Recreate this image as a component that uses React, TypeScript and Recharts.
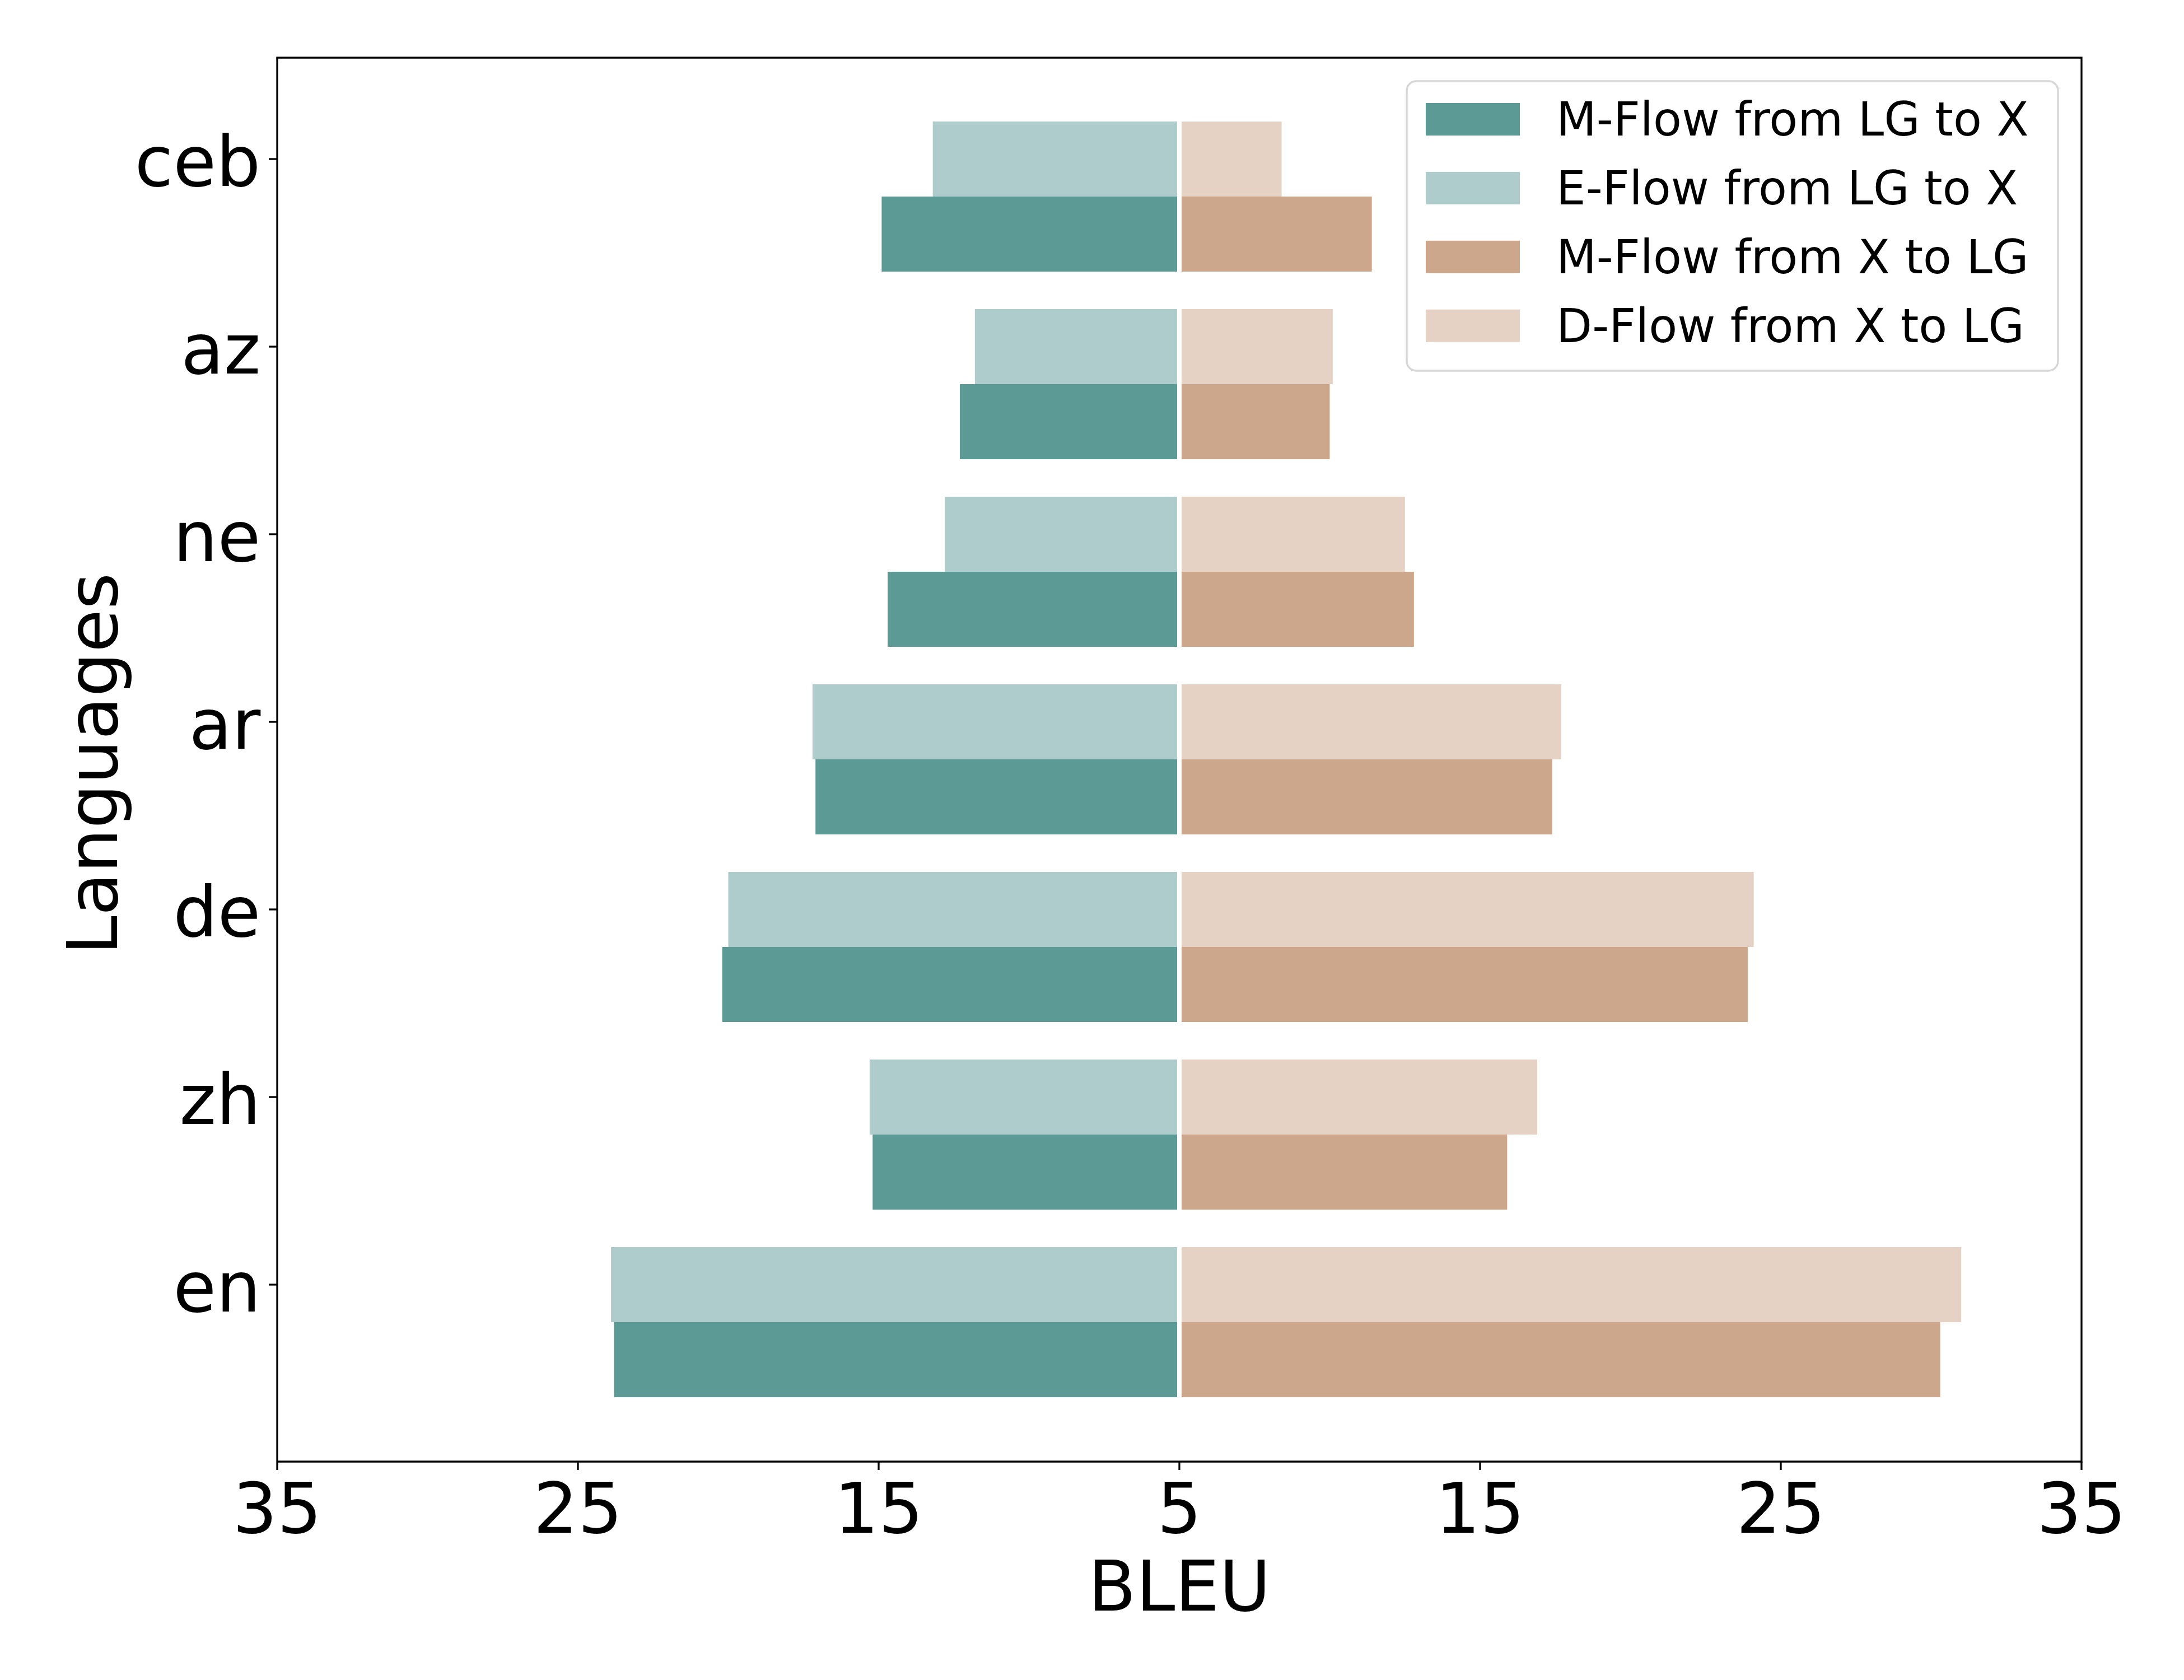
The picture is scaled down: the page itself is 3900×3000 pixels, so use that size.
import React from 'react';
import { BarChart, Bar, XAxis, YAxis, ReferenceLine, Label } from 'recharts';

const languages = ['ceb', 'az', 'ne', 'ar', 'de', 'zh', 'en'];
const mFlowLgToX = [14.9, 12.3, 14.7, 17.1, 20.2, 15.2, 23.8];
const eFlowLgToX = [13.2, 11.8, 12.8, 17.2, 20.0, 15.3, 23.9];
const mFlowXToLg = [11.4, 10.0, 12.8, 17.4, 23.9, 15.9, 30.3];
const dFlowXToLg = [8.4, 10.1, 12.5, 17.7, 24.1, 16.9, 31.0];

// the axis reads 35 ... 5 ... 35, bars start at BLEU 5
const AXIS_BASE = 5;
const xTicks = [-30, -20, -10, 0, 10, 20, 30];

const series = [
  { key: 'mLgX', name: 'M-Flow from LG to X', color: '#5b9a95' },
  { key: 'eLgX', name: 'E-Flow from LG to X', color: '#adcccb' },
  { key: 'mXLg', name: 'M-Flow from X to LG', color: '#cca78c' },
  { key: 'dXLg', name: 'D-Flow from X to LG', color: '#e5d2c5' },
];
const colorOf = (k: string) => series.find(s => s.key === k)!.color;

const rows = languages.map((lang, i) => ({
  lang,
  eLgX: -(eFlowLgToX[i] - AXIS_BASE),
  dXLg: dFlowXToLg[i] - AXIS_BASE,
  mLgX: -(mFlowLgToX[i] - AXIS_BASE),
  mXLg: mFlowXToLg[i] - AXIS_BASE,
}));

const W = 3900;
const H = 3000;
const FONT = 'DejaVu Sans';
const PLOT_LEFT = 495;
const PLOT_TOP = 103;
const PLOT_RIGHT = 3717;
const PLOT_BOTTOM = 2610;
const PAD_TOP = 80.5;
const PAD_BOTTOM = 81.5;
const BAND = (PLOT_BOTTOM - PLOT_TOP - PAD_TOP - PAD_BOTTOM) / languages.length;
const LINE_W = 3.3;
const TICK_LEN = 15;

// matplotlib puts the tick on the centre of the upper bar
function LangTick(props: any) {
  const { y, payload } = props;
  const ty = y - BAND * 0.2;
  return (
    <g>
      <line x1={PLOT_LEFT - TICK_LEN} x2={PLOT_LEFT} y1={ty} y2={ty} stroke="#000" strokeWidth={LINE_W} />
      <text x={PLOT_LEFT - TICK_LEN - 14.6} y={ty} dy={48} textAnchor="end" fontSize={125} fontFamily={FONT} fill="#000">
        {payload.value}
      </text>
    </g>
  );
}

// top/right spines and the legend, drawn over the chart
function Overlay() {
  const left = 2512;
  const top = 145;
  return (
    <svg width={W} height={H} style={{ position: 'absolute', left: 0, top: 0, pointerEvents: 'none' }}>
      <path
        d={`M${PLOT_LEFT} ${PLOT_TOP} H${PLOT_RIGHT} V${PLOT_BOTTOM}`}
        fill="none"
        stroke="#000"
        strokeWidth={LINE_W}
        strokeLinecap="square"
      />
      <rect x={left} y={top} width={1163} height={517} rx={17} fill="#fff" fillOpacity={0.8} stroke="#d6d6d6" strokeWidth={LINE_W} />
      {series.map((s, i) => {
        const cy = 213 + i * 122.9;
        return (
          <g key={s.key}>
            <rect x={2546} y={cy - 29} width={168} height={58} fill={s.color} />
            <text x={2779} y={cy + 29} fontSize={83.3} fontFamily={FONT} fill="#000">{s.name}</text>
          </g>
        );
      })}
    </svg>
  );
}

export default function App() {
  return (
    <div style={{ position: 'absolute', left: 0, top: 0, width: W, height: H, background: '#fff' }}>
      <BarChart
        width={W}
        height={H}
        data={rows}
        layout="vertical"
        stackOffset="sign"
        barCategoryGap="10%"
        barGap={0}
        margin={{ top: PLOT_TOP, right: W - PLOT_RIGHT, left: 0, bottom: 0 }}
      >
        <XAxis
          type="number"
          domain={[-30, 30]}
          ticks={xTicks}
          allowDataOverflow
          tickFormatter={v => String(Math.abs(v) + AXIS_BASE)}
          height={H - PLOT_BOTTOM}
          tickSize={TICK_LEN}
          tickMargin={23}
          axisLine={{ stroke: '#000', strokeWidth: LINE_W }}
          tickLine={{ stroke: '#000', strokeWidth: LINE_W }}
          tick={{ fontSize: 125, fontFamily: FONT, fill: '#000' }}
        >
          <Label
            content={({ viewBox }: any) => (
              <text x={viewBox.x + viewBox.width / 2} y={viewBox.y + 266} textAnchor="middle" fontSize={125} fontFamily={FONT} fill="#000">
                BLEU
              </text>
            )}
          />
        </XAxis>
        <YAxis
          type="category"
          dataKey="lang"
          width={PLOT_LEFT}
          padding={{ top: PAD_TOP, bottom: PAD_BOTTOM }}
          tickLine={false}
          tick={<LangTick />}
          interval={0}
          axisLine={{ stroke: '#000', strokeWidth: LINE_W }}
        >
          <Label
            content={() => (
              <text x={209} y={1364} transform="rotate(-90 209 1364)" textAnchor="middle" fontSize={125} fontFamily={FONT} fill="#000">
                Languages
              </text>
            )}
          />
        </YAxis>
        <Bar dataKey="eLgX" name="E-Flow from LG to X" stackId="upper" fill={colorOf('eLgX')} isAnimationActive={false} />
        <Bar dataKey="dXLg" name="D-Flow from X to LG" stackId="upper" fill={colorOf('dXLg')} isAnimationActive={false} />
        <Bar dataKey="mLgX" name="M-Flow from LG to X" stackId="lower" fill={colorOf('mLgX')} isAnimationActive={false} />
        <Bar dataKey="mXLg" name="M-Flow from X to LG" stackId="lower" fill={colorOf('mXLg')} isAnimationActive={false} />
        <ReferenceLine x={0} stroke="#fff" strokeWidth={8} />
      </BarChart>
      <Overlay />
    </div>
  );
}
